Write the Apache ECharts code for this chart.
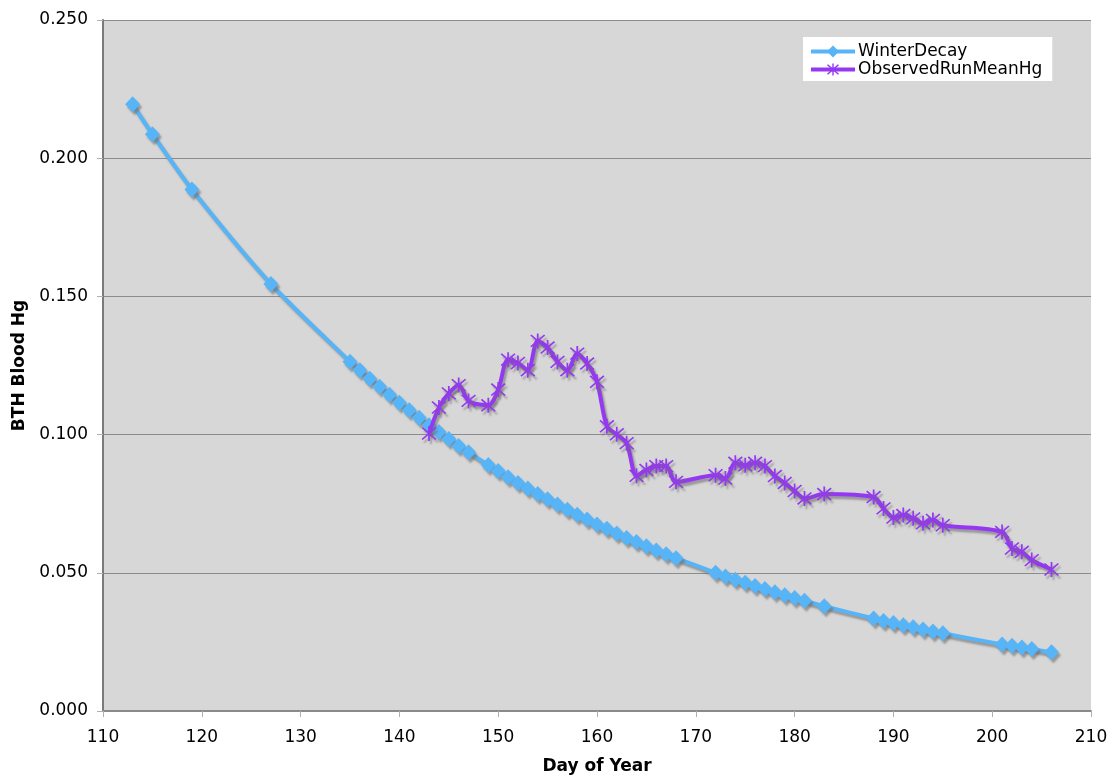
<!DOCTYPE html>
<html>
<head>
<meta charset="utf-8">
<script src="https://cdn.jsdelivr.net/npm/echarts@6/dist/echarts.min.js"></script>
<style>
  html, body { margin: 0; padding: 0; background: #fff; }
  #chart { width: 1113px; height: 776px; }
</style>
</head>
<body>
<div id="chart"></div>
<script>
// Day of year for each model (winter decay) estimate
const decayDays = [113, 115, 119, 127, 135, 136, 137, 138, 139, 140, 141, 142, 143, 144, 145, 146, 147,
  149, 150, 151, 152, 153, 154, 155, 156, 157, 158, 159, 160, 161, 162, 163, 164, 165, 166, 167, 168,
  172, 173, 174, 175, 176, 177, 178, 179, 180, 181, 183, 188, 189, 190, 191, 192, 193, 194, 195,
  201, 202, 203, 204, 206];
const decayHg = [0.2195, 0.2087, 0.1887, 0.1545, 0.1264, 0.1233, 0.1202, 0.1173, 0.1144, 0.1115, 0.1088, 0.1061, 0.1034, 0.1009, 0.0984, 0.0959, 0.0936,
  0.0890, 0.0868, 0.0846, 0.0825, 0.0805, 0.0785, 0.0766, 0.0747, 0.0728, 0.0710, 0.0693, 0.0675, 0.0659, 0.0642, 0.0626, 0.0611, 0.0596, 0.0581, 0.0567, 0.0553,
  0.0500, 0.0487, 0.0475, 0.0464, 0.0452, 0.0441, 0.0430, 0.0419, 0.0409, 0.0399, 0.0379, 0.0335, 0.0326, 0.0318, 0.0310, 0.0303, 0.0295, 0.0288, 0.0281,
  0.0241, 0.0236, 0.0230, 0.0224, 0.0213];

// Observed running mean of blood Hg
const observedDays = [143, 144, 145, 146, 147, 149, 150, 151, 152, 153, 154, 155, 156, 157, 158, 159, 160,
  161, 162, 163, 164, 165, 166, 167, 168, 172, 173, 174, 175, 176, 177, 178, 179, 180, 181, 183,
  188, 189, 190, 191, 192, 193, 194, 195, 201, 202, 203, 204, 206];
const observedHg = [0.1004, 0.1098, 0.1149, 0.1179, 0.1122, 0.1106, 0.1163, 0.1271, 0.1259, 0.1233, 0.1339, 0.1315, 0.1263, 0.1233, 0.1293, 0.1257, 0.1191,
  0.1030, 0.1001, 0.0969, 0.0851, 0.0872, 0.0886, 0.0886, 0.0829, 0.0853, 0.0841, 0.0898, 0.0889, 0.0898, 0.0886, 0.0850, 0.0825, 0.0796, 0.0769, 0.0785,
  0.0774, 0.0733, 0.0700, 0.0709, 0.0697, 0.0679, 0.0691, 0.0672, 0.0648, 0.0588, 0.0576, 0.0546, 0.0512];

const xTicks = { min: 110, max: 210, step: 10 };
const yTicks = { min: 0, max: 0.25, step: 0.05 };

const seriesNames = ['WinterDecay', 'ObservedRunMeanHg'];

// six-spoke asterisk marker (vertical bar plus two diagonals)
const starPath = 'path://M9 0 L11 0 L11 20 L9 20 Z ' +
  'M1.4 2.8 L2.8 1.4 L18.6 17.2 L17.2 18.6 Z ' +
  'M17.2 1.4 L18.6 2.8 L2.8 18.6 L1.4 17.2 Z';

const pairs = (xs, ys) => xs.map((x, i) => [x, ys[i]]);

const chart = echarts.init(document.getElementById('chart'), null, { renderer: 'canvas' });

const fontFamily = 'DejaVu Sans, Verdana, sans-serif';
const shadow = { shadowColor: 'rgba(110,110,110,0.6)', shadowOffsetX: 2, shadowOffsetY: 3, shadowBlur: 2 };

chart.setOption({
  animation: false,
  textStyle: { fontFamily: fontFamily },
  grid: {
    left: 103, right: 22, top: 20, bottom: 65,
    outerBoundsMode: 'none',
    containLabel: false,
    show: true,
    backgroundColor: '#d7d7d7',
    borderWidth: 0
  },
  legend: {
    orient: 'vertical',
    left: 803,
    top: 37,
    width: 252,
    backgroundColor: '#ffffff',
    padding: [6, 10, 3, 6],
    itemGap: 1,
    itemWidth: 44,
    itemHeight: 15,
    lineStyle: { width: 4, shadowBlur: 0, shadowOffsetX: 0, shadowOffsetY: 0 },
    itemStyle: { shadowBlur: 0, shadowOffsetX: 0, shadowOffsetY: 0 },
    textStyle: { fontSize: 17, color: '#000', fontFamily: fontFamily, padding: [0, 0, 0, -2] },
    data: seriesNames
  },
  xAxis: {
    type: 'value',
    min: xTicks.min,
    max: xTicks.max,
    interval: xTicks.step,
    name: 'Day of Year',
    nameLocation: 'middle',
    nameGap: 47,
    nameTextStyle: { fontSize: 17, fontWeight: 'bold', color: '#000', fontFamily: fontFamily },
    axisLine: { show: true, onZero: false, lineStyle: { color: '#8a8a8a', width: 2 } },
    axisTick: { show: true, length: 6, lineStyle: { color: '#b0b0b0', width: 1 } },
    axisLabel: { fontSize: 17, color: '#000', margin: 18, fontFamily: fontFamily },
    splitLine: { show: false }
  },
  yAxis: {
    type: 'value',
    min: yTicks.min,
    max: yTicks.max,
    interval: yTicks.step,
    name: 'BTH Blood Hg',
    nameLocation: 'middle',
    nameGap: 75,
    nameRotate: 90,
    nameTextStyle: { fontSize: 17, fontWeight: 'bold', color: '#000', fontFamily: fontFamily },
    axisLine: { show: true, lineStyle: { color: '#7a7a7a', width: 2 } },
    axisTick: { show: true, length: 6, lineStyle: { color: '#b0b0b0', width: 1 } },
    axisLabel: {
      fontSize: 17, color: '#000', margin: 15, fontFamily: fontFamily,
      formatter: v => v.toFixed(3)
    },
    splitLine: { show: true, lineStyle: { color: '#8c8c8c', width: 1 } }
  },
  series: [
    {
      name: seriesNames[0],
      type: 'line',
      data: pairs(decayDays, decayHg),
      smooth: 0.3,
      symbol: 'diamond',
      symbolSize: [15, 16],
      showAllSymbol: true,
      color: '#56b4f7',
      lineStyle: Object.assign({ color: '#56b4f7', width: 4 }, shadow),
      itemStyle: Object.assign({ color: '#56b4f7' }, shadow),
      z: 2
    },
    {
      name: seriesNames[1],
      type: 'line',
      data: pairs(observedDays, observedHg),
      smooth: 0.3,
      symbol: starPath,
      symbolSize: 15,
      showAllSymbol: true,
      color: '#9538f2',
      lineStyle: Object.assign({ color: '#9538f2', width: 4 }, shadow),
      itemStyle: Object.assign({ color: '#9538f2' }, shadow),
      z: 3
    }
  ]
});
</script>
</body>
</html>
